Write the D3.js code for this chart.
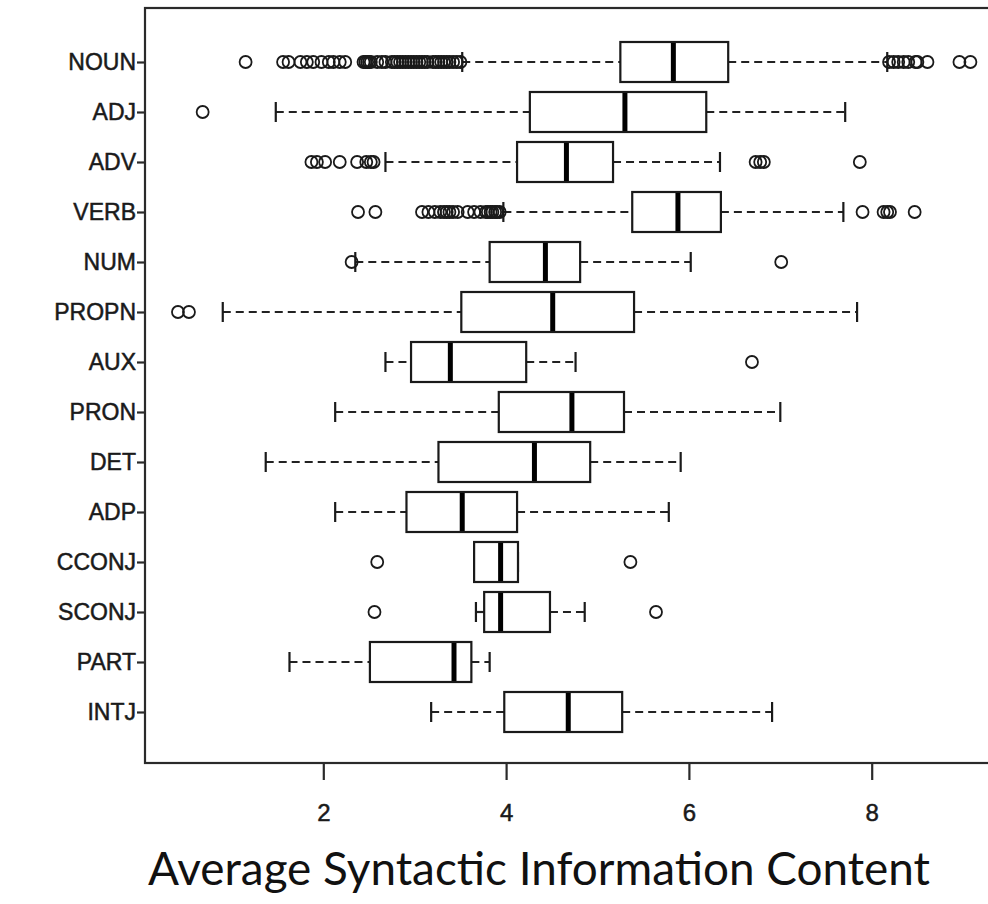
<!DOCTYPE html>
<html>
<head>
<meta charset="utf-8">
<script src="https://cdn.jsdelivr.net/npm/d3@7"></script>
<style>
  html, body { margin: 0; padding: 0; background: #ffffff; }
  svg { display: block; }
</style>
</head>
<body>
<script>
// ---------------- data ----------------
const categories = ["NOUN","ADJ","ADV","VERB","NUM","PROPN","AUX","PRON","DET","ADP","CCONJ","SCONJ","PART","INTJ"];
const whiskerLow  = [3.52, 1.48, 2.68, 3.97, 2.35, 0.90, 2.68, 2.13, 1.37, 2.13, 3.65, 3.67, 1.63, 3.18];
const q1          = [5.25, 4.26, 4.12, 5.38, 3.82, 3.51, 2.96, 3.92, 3.26, 2.91, 3.65, 3.76, 2.51, 3.98];
const medians     = [5.83, 5.30, 4.66, 5.88, 4.43, 4.51, 3.39, 4.72, 4.31, 3.52, 3.94, 3.94, 3.43, 4.68];
const q3          = [6.43, 6.19, 5.17, 6.35, 4.81, 5.40, 4.22, 5.29, 4.92, 4.12, 4.13, 4.48, 3.62, 5.27];
const whiskerHigh = [8.17, 7.71, 6.34, 7.69, 6.02, 7.84, 4.76, 7.00, 5.91, 5.78, 4.13, 4.86, 3.82, 6.91];
const outliers = [
  // NOUN
  [1.15, 1.56, 1.62, 1.75, 1.82, 1.89, 1.98, 2.06, 2.11, 2.18, 2.24,
   2.44, 2.46, 2.48, 2.50, 2.52, 2.59, 2.64, 2.68,
   2.75, 2.78, 2.81, 2.84, 2.87, 2.90, 2.93, 2.96, 2.99, 3.02, 3.05, 3.08, 3.11, 3.14,
   3.20, 3.23, 3.26, 3.29, 3.32, 3.35, 3.38, 3.42, 3.46, 3.50,
   8.19, 8.24, 8.29, 8.35, 8.40, 8.48, 8.50, 8.61, 8.96, 9.08],
  // ADJ
  [0.68],
  // ADV
  [1.87, 1.93, 2.02, 2.18, 2.37, 2.47, 2.52, 2.55, 6.73, 6.78, 6.82, 7.87],
  // VERB
  [2.38, 2.57, 3.08, 3.15, 3.22, 3.28, 3.32, 3.35, 3.38, 3.42, 3.47,
   3.58, 3.65, 3.72, 3.78, 3.80, 3.83, 3.85, 3.88, 3.90, 3.93,
   7.90, 8.13, 8.17, 8.20, 8.47],
  // NUM
  [2.31, 7.01],
  // PROPN
  [0.41, 0.53],
  // AUX
  [6.69],
  // PRON
  [],
  // DET
  [],
  // ADP
  [],
  // CCONJ
  [2.59, 5.36],
  // SCONJ
  [2.56, 5.64],
  // PART
  [],
  // INTJ
  []
];
const xTicks = [2, 4, 6, 8];
const xTitle = "Average Syntactic Information Content";

// ---------------- layout ----------------
const W = 988, H = 904;
const frame = {left: 145, top: 8, right: 999, bottom: 763};

const svg = d3.select("body").append("svg")
  .attr("width", W).attr("height", H)
  .attr("viewBox", `0 0 ${W} ${H}`);

svg.append("rect").attr("width", W).attr("height", H).attr("fill", "#ffffff");

const x = d3.scaleLinear().domain([2, 8]).range([323.3, 871.7]);
const y = d3.scalePoint().domain(categories).range([62, 712]);
const boxH = 40, capH = 20;

const rows = categories.map((c, i) => ({
  cat: c, lo: whiskerLow[i], q1: q1[i], med: medians[i], q3: q3[i], hi: whiskerHigh[i], out: outliers[i]
}));

const g = svg.append("g");

// whiskers (dashed)
g.selectAll("line.wl").data(rows).join("line")
  .attr("x1", d => x(d.lo)).attr("x2", d => x(d.q1))
  .attr("y1", d => y(d.cat)).attr("y2", d => y(d.cat))
  .attr("stroke", "#222222").attr("stroke-width", 2.2).attr("stroke-dasharray", "8,5");
g.selectAll("line.wh").data(rows).join("line")
  .attr("x1", d => x(d.q3)).attr("x2", d => x(d.hi))
  .attr("y1", d => y(d.cat)).attr("y2", d => y(d.cat))
  .attr("stroke", "#222222").attr("stroke-width", 2.2).attr("stroke-dasharray", "8,5");

// staples
["lo", "hi"].forEach(k => {
  g.selectAll("line.cap" + k).data(rows).join("line")
    .attr("x1", d => x(d[k])).attr("x2", d => x(d[k]))
    .attr("y1", d => y(d.cat) - capH / 2).attr("y2", d => y(d.cat) + capH / 2)
    .attr("stroke", "#1a1a1a").attr("stroke-width", 2.2);
});

// boxes
g.selectAll("rect.box").data(rows).join("rect")
  .attr("x", d => x(d.q1)).attr("width", d => x(d.q3) - x(d.q1))
  .attr("y", d => y(d.cat) - boxH / 2).attr("height", boxH)
  .attr("fill", "#ffffff").attr("stroke", "#1a1a1a").attr("stroke-width", 2.2);

// medians
g.selectAll("line.med").data(rows).join("line")
  .attr("x1", d => x(d.med)).attr("x2", d => x(d.med))
  .attr("y1", d => y(d.cat) - boxH / 2 + 1).attr("y2", d => y(d.cat) + boxH / 2 - 1)
  .attr("stroke", "#000000").attr("stroke-width", 5);

// outliers
const outPts = rows.flatMap(d => d.out.map(v => ({cat: d.cat, v})));
g.selectAll("circle.out").data(outPts).join("circle")
  .attr("cx", d => x(d.v)).attr("cy", d => y(d.cat)).attr("r", 6)
  .attr("fill", "none").attr("stroke", "#1a1a1a").attr("stroke-width", 1.8);

// frame
svg.append("rect")
  .attr("x", frame.left).attr("y", frame.top)
  .attr("width", frame.right - frame.left).attr("height", frame.bottom - frame.top)
  .attr("fill", "none").attr("stroke", "#2a2a2a").attr("stroke-width", 2.2);

const labelFont = "'Liberation Sans', Arial, sans-serif";

// x axis
const xAxis = d3.axisBottom(x).tickValues(xTicks).tickSize(17).tickPadding(24).tickFormat(d3.format("d"));
const xg = svg.append("g").attr("transform", `translate(0,${frame.bottom})`).call(xAxis);
xg.select(".domain").remove();
xg.selectAll(".tick line").attr("stroke", "#2a2a2a").attr("stroke-width", 2.2);
xg.selectAll(".tick text").attr("fill", "#1a1a1a")
  .attr("stroke", "#1a1a1a").attr("stroke-width", 0.5)
  .style("font-family", labelFont).style("font-size", "24px");

// y axis
const yAxis = d3.axisLeft(y).tickSize(8).tickPadding(1);
const yg = svg.append("g").attr("transform", `translate(${frame.left},0)`).call(yAxis);
yg.select(".domain").remove();
yg.selectAll(".tick line").attr("stroke", "#2a2a2a").attr("stroke-width", 2.2);
yg.selectAll(".tick text").attr("fill", "#1a1a1a")
  .attr("stroke", "#1a1a1a").attr("stroke-width", 0.5)
  .style("font-family", labelFont).style("font-size", "23px");

// x title
const t = svg.append("text")
  .attr("x", 539).attr("y", 885).attr("text-anchor", "middle")
  .attr("fill", "#111111")
  .style("font-family", "Lato, 'Open Sans', sans-serif").style("font-size", "38px")
  .text(xTitle);
const len = t.node().getComputedTextLength();
t.style("font-size", (38 * 782 / len).toFixed(2) + "px");
</script>
</body>
</html>
